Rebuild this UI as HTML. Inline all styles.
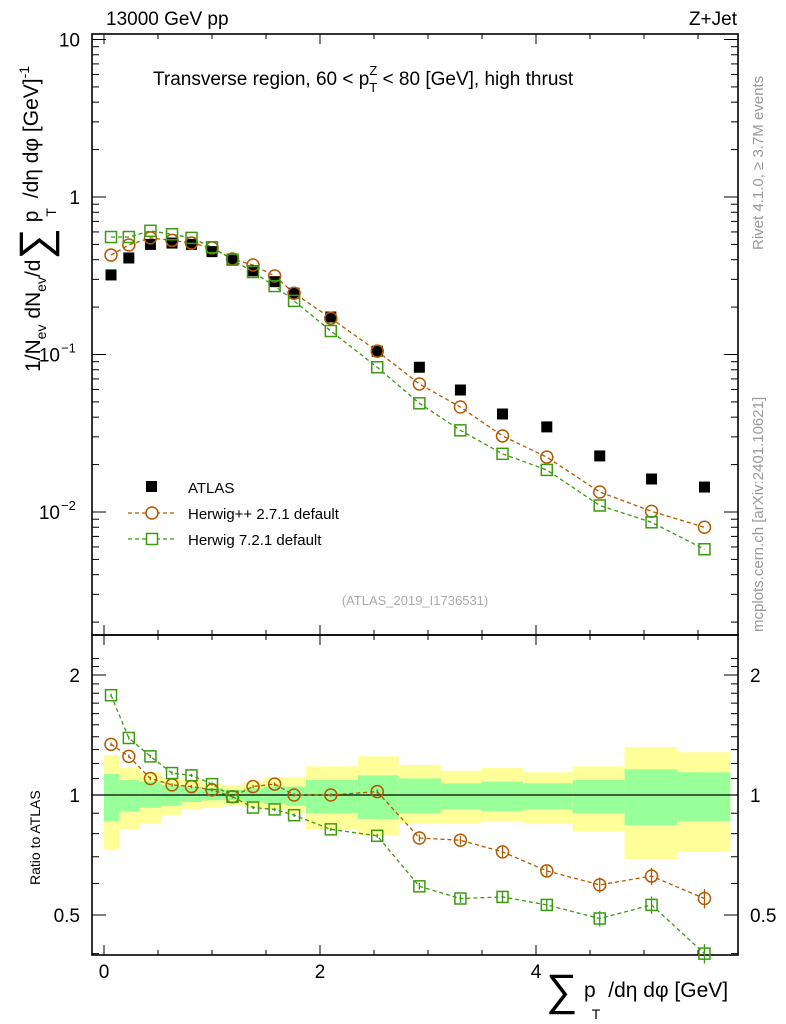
<!DOCTYPE html>
<html><head><meta charset="utf-8"><style>
html,body{margin:0;padding:0;background:#fff;}
svg{display:block;font-family:"Liberation Sans",sans-serif;}
</style></head><body>
<svg id="chart" width="786" height="1024" viewBox="0 0 786 1024" xmlns="http://www.w3.org/2000/svg">
<g id="bands"></g>
<g id="axes"></g>
<g id="series"></g>
<text x="106" y="25" font-size="19">13000 GeV pp</text>
<text x="737" y="25" font-size="19" text-anchor="end">Z+Jet</text>
<text x="153" y="85" font-size="19">Transverse region, 60 &lt; p<tspan font-size="13" dy="-10">Z</tspan><tspan font-size="13" dx="-8" dy="17">T</tspan><tspan dy="-7"> &lt; 80 [GeV], high thrust</tspan></text>
<text x="415" y="605" font-size="13" fill="#aaa" text-anchor="middle">(ATLAS_2019_I1736531)</text>
<text transform="translate(763,250) rotate(-90)" font-size="15" fill="#999">Rivet 4.1.0, ≥ 3.7M events</text>
<text transform="translate(763,632) rotate(-90)" font-size="15" fill="#999">mcplots.cern.ch [arXiv:2401.10621]</text>
<text transform="translate(40,372) rotate(-90)" font-size="21">1/N<tspan font-size="14" dy="6">ev</tspan><tspan dy="-6"> dN</tspan><tspan font-size="14" dy="6">ev</tspan><tspan dy="-6">/d</tspan><tspan font-size="44" dy="10">∑</tspan><tspan dy="-12"> p</tspan><tspan font-size="14" dx="-6" dy="18">T</tspan><tspan dy="-18" dx="4"> /dη dφ  [GeV]</tspan><tspan font-size="14" dy="-9">-1</tspan></text>
<text transform="translate(40,885) rotate(-90)" font-size="14">Ratio to ATLAS</text>
<text x="546" y="1005" font-size="44">∑</text>
<text x="584" y="997" font-size="21">p<tspan font-size="14" dx="-4" dy="22">T</tspan><tspan dy="-22" dx="8">/dη dφ [GeV]</tspan></text>
<g>
<rect x="146" y="481" width="11" height="11" fill="#000"/>
<text x="188" y="493" font-size="15">ATLAS</text>
<line x1="128" y1="513" x2="177" y2="513" stroke="#b35900" stroke-dasharray="4,3" stroke-width="1.3"/>
<circle cx="152" cy="513" r="6" fill="#fff" stroke="#b35900" stroke-width="1.5"/>
<text x="188" y="519" font-size="15">Herwig++ 2.7.1 default</text>
<line x1="128" y1="539" x2="177" y2="539" stroke="#3a9a10" stroke-dasharray="4,3" stroke-width="1.3"/>
<rect x="146.5" y="533.5" width="11" height="11" fill="#fff" stroke="#3a9a10" stroke-width="1.5"/>
<text x="188" y="545" font-size="15">Herwig 7.2.1 default</text>
</g>
</svg>
<script>
const xCenters=[0.065,0.23,0.43,0.63,0.81,1.0,1.19,1.38,1.58,1.76,2.1,2.53,2.92,3.3,3.69,4.1,4.59,5.07,5.56];
const binEdges=[0,0.14,0.33,0.53,0.72,0.91,1.1,1.29,1.48,1.68,1.87,2.35,2.73,3.12,3.5,3.88,4.34,4.82,5.31,5.8];
const atlas=[0.32,0.41,0.50,0.51,0.50,0.45,0.40,0.34,0.29,0.245,0.173,0.105,0.083,0.0595,0.0419,0.0347,0.0227,0.0162,0.0144];
const herwigpp=[0.428,0.496,0.55,0.53,0.51,0.475,0.404,0.37,0.315,0.245,0.17,0.105,0.065,0.0464,0.0304,0.0223,0.0134,0.0101,0.008];
const herwig7=[0.557,0.557,0.61,0.58,0.55,0.48,0.40,0.334,0.272,0.219,0.141,0.083,0.049,0.033,0.0234,0.0185,0.011,0.0086,0.0058];
const ratioPP=[1.34,1.25,1.10,1.06,1.05,1.03,0.99,1.05,1.065,1.0,1.0,1.02,0.78,0.77,0.72,0.645,0.595,0.626,0.55];
const ratio7=[1.78,1.39,1.25,1.135,1.12,1.065,0.99,0.93,0.92,0.89,0.82,0.79,0.59,0.55,0.555,0.53,0.49,0.53,0.40];
const ratioErr=[0.005,0.005,0.005,0.005,0.005,0.005,0.005,0.005,0.005,0.005,0.005,0.006,0.01,0.012,0.015,0.015,0.022,0.025,0.028];
const yellowUp=[1.26,1.17,1.14,1.10,1.09,1.07,1.06,1.08,1.11,1.11,1.18,1.25,1.19,1.15,1.17,1.14,1.18,1.32,1.28];
const yellowDn=[0.73,0.82,0.85,0.89,0.92,0.93,0.94,0.93,0.92,0.90,0.82,0.79,0.85,0.85,0.86,0.85,0.81,0.69,0.72];
const greenUp=[1.13,1.09,1.08,1.06,1.05,1.04,1.03,1.04,1.05,1.05,1.09,1.12,1.10,1.07,1.08,1.07,1.09,1.16,1.14];
const greenDn=[0.86,0.91,0.93,0.94,0.96,0.97,0.97,0.96,0.95,0.94,0.90,0.87,0.90,0.92,0.91,0.92,0.90,0.84,0.86];
const xTicks=[0,2,4];
const ratioTicks=[2,1,0.5];

const NS='http://www.w3.org/2000/svg';
const L=92,R=738,T1=34,B1=635,B2=955;
const X=v=>104+v*108;
const Y=v=>512-(Math.log10(v)+2)*157.5;
const YR=v=>795-Math.log2(v)*120;
function mk(tag,attrs,parent){const e=document.createElementNS(NS,tag);for(const k in attrs)e.setAttribute(k,attrs[k]);parent.appendChild(e);return e;}
const bands=document.getElementById('bands'),axes=document.getElementById('axes'),series=document.getElementById('series');

for(let i=0;i<xCenters.length;i++){
  const x0=X(binEdges[i]),x1=X(binEdges[i+1]);
  const yb=mk('rect',{x:x0,y:YR(yellowUp[i]),width:x1-x0,height:YR(yellowDn[i])-YR(yellowUp[i]),fill:'#ffff99'},bands);
  
  
  const gb=mk('rect',{x:x0,y:YR(greenUp[i]),width:x1-x0,height:YR(greenDn[i])-YR(greenUp[i]),fill:'#99ff99'},bands);
  
  
}
mk('line',{x1:L,x2:R,y1:YR(1),y2:YR(1),stroke:'#000','stroke-width':1.3},axes);
mk('rect',{x:L,y:T1,width:R-L,height:B1-T1,fill:'none',stroke:'#000','stroke-width':1.6},axes);
mk('rect',{x:L,y:B1,width:R-L,height:B2-B1,fill:'none',stroke:'#000','stroke-width':1.6},axes);
for(let v=0;v<=5.8;v+=0.5){
  const major=Math.abs(v%2)<1e-6, len=major?10:5;
  [[T1,1],[B1,-1],[B1,1],[B2,-1]].forEach(([y,d])=>mk('line',{x1:X(v),x2:X(v),y1:y,y2:y+d*len,stroke:'#000','stroke-width':1},axes));
}
xTicks.forEach(v=>{const t=mk('text',{x:X(v),y:978,'font-size':19,'text-anchor':'middle'},axes);t.textContent=v;

});
for(let d=-3;d<=1;d++){for(let m=1;m<10;m++){const v=m*Math.pow(10,d);const y=Y(v);if(y<T1||y>B1)continue;const len=m==1?14:7;
 mk('line',{x1:L,x2:L+len,y1:y,y2:y,stroke:'#000'},axes);mk('line',{x1:R,x2:R-len,y1:y,y2:y,stroke:'#000'},axes);}}
[[10,'10'],[1,'1']].forEach(([v,s])=>{const t=mk('text',{x:80,y:Y(v)+7,'font-size':19,'text-anchor':'end'},axes);t.textContent=s;

});
[[0.1,'−1'],[0.01,'−2']].forEach(([v,s])=>{const t=mk('text',{x:60,y:Y(v)+7,'font-size':19,'text-anchor':'end'},axes);t.textContent='10';


const e=mk('text',{x:61,y:Y(v)-2,'font-size':13},axes);e.textContent=s;});
for(let v=0.4;v<=2.3;v+=0.1){const y=YR(v);if(y<B1||y>B2)continue;const maj=ratioTicks.some(t=>Math.abs(t-v)<1e-6);const len=maj?14:7;
 mk('line',{x1:L,x2:L+len,y1:y,y2:y,stroke:'#000'},axes);mk('line',{x1:R,x2:R-len,y1:y,y2:y,stroke:'#000'},axes);}
ratioTicks.forEach(v=>{[[80,'end'],[750,'start']].forEach(([x,a])=>{const t=mk('text',{x:x,y:YR(v)+7,'font-size':19,'text-anchor':a},axes);t.textContent=v;

});});

function line(vals,yf,col){mk('polyline',{points:vals.map((v,i)=>X(xCenters[i])+','+yf(v)).join(' '),fill:'none',stroke:col,'stroke-width':1.3,'stroke-dasharray':'4,3'},series);}
function circ(x,y,col){return mk('circle',{cx:x,cy:y,r:6,fill:'none',stroke:col,'stroke-width':1.5},series);}
function sq(x,y,col){return mk('rect',{x:x-5.5,y:y-5.5,width:11,height:11,fill:'none',stroke:col,'stroke-width':1.5},series);}
const OR='#b35900',GR='#3a9a10';
line(herwigpp,Y,OR);line(herwig7,Y,GR);
line(ratioPP,YR,OR);line(ratio7,YR,GR);
xCenters.forEach((xc,i)=>{
  const a=mk('rect',{x:X(xc)-5.5,y:Y(atlas[i])-5.5,width:11,height:11,fill:'#000'},series);
  
  
  const c=circ(X(xc),Y(herwigpp[i]),OR);
  
  
  const s=sq(X(xc),Y(herwig7[i]),GR);
  
  
  [[ratioPP,OR,circ,'herwigpp-ratio-point'],[ratio7,GR,sq,'herwig7-ratio-point']].forEach(([arr,col,f,nm])=>{
    const v=arr[i],e=ratioErr[i];
    mk('line',{x1:X(xc),x2:X(xc),y1:YR(v+e*v*2),y2:YR(v-e*v*2),stroke:col,'stroke-width':1.3},series);
    const m=f(X(xc),YR(v),col);
    
    
  });
});
</script>
</body></html>
